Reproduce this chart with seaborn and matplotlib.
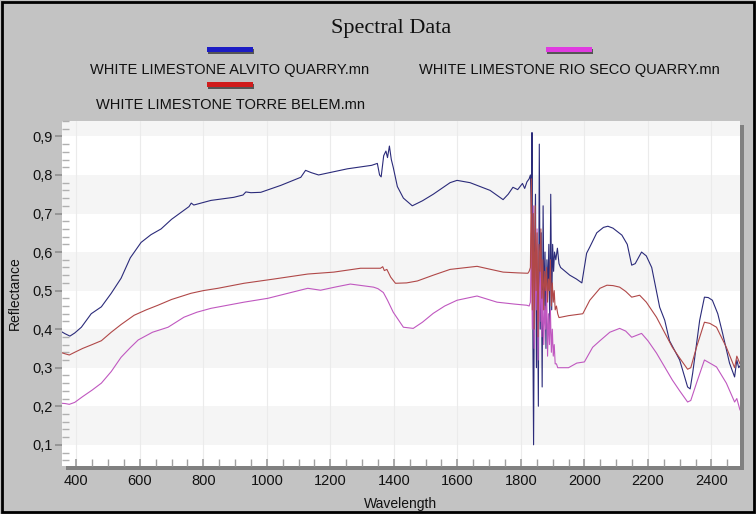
import matplotlib
matplotlib.use("Agg")
import matplotlib.pyplot as plt
import seaborn as sns
from matplotlib.patches import Rectangle
from matplotlib.ticker import MultipleLocator, FixedLocator, FixedFormatter

# ---------------- data ----------------
title = "Spectral Data"
series_names = ["WHITE LIMESTONE ALVITO QUARRY.mn",
                "WHITE LIMESTONE RIO SECO QUARRY.mn",
                "WHITE LIMESTONE TORRE BELEM.mn"]
x_label = "Wavelength"
y_label = "Reflectance"
x_ticks = [400, 600, 800, 1000, 1200, 1400, 1600, 1800, 2000, 2200, 2400]
y_ticks = [0.1, 0.2, 0.3, 0.4, 0.5, 0.6, 0.7, 0.8, 0.9]
y_tick_labels = ["0,1", "0,2", "0,3", "0,4", "0,5", "0,6", "0,7", "0,8", "0,9"]

alvito_wl = [350, 365, 380, 395, 416, 447, 479, 510, 541, 570, 604, 635, 667, 700, 730,
             755, 762, 770, 824, 896, 925, 934, 950, 981, 1044, 1107, 1122, 1140, 1163,
             1254, 1330, 1348, 1355, 1360, 1368, 1375, 1380, 1386, 1392, 1398, 1411, 1430,
             1458, 1490, 1524, 1577, 1599, 1640, 1703, 1744, 1760, 1775, 1790, 1805, 1812,
             1819, 1826,
             1830, 1833, 1835, 1838, 1840, 1843, 1846, 1849, 1852, 1855, 1858, 1861, 1864,
             1867, 1870, 1873, 1876, 1879, 1882, 1885, 1888, 1891, 1894, 1897, 1900, 1903,
             1906, 1910, 1915, 1920, 1925,
             1954, 1975, 1992, 2007, 2017, 2039, 2060, 2074, 2090, 2118, 2135, 2149, 2160,
             2180, 2195, 2212, 2237, 2253, 2268, 2300, 2325, 2333, 2341, 2363, 2378, 2390,
             2403, 2420, 2435, 2457, 2473, 2480, 2486, 2495]
alvito_refl = [0.395, 0.388, 0.382, 0.390, 0.405, 0.440, 0.458, 0.493, 0.532, 0.585, 0.625,
               0.645, 0.660, 0.685, 0.703, 0.718, 0.727, 0.722, 0.734, 0.742, 0.748, 0.756,
               0.754, 0.755, 0.773, 0.794, 0.812, 0.806, 0.800, 0.816, 0.825, 0.830, 0.800,
               0.795, 0.850, 0.862, 0.845, 0.875, 0.840, 0.820, 0.770, 0.740, 0.720, 0.733,
               0.750, 0.780, 0.786, 0.780, 0.760, 0.736, 0.750, 0.768, 0.762, 0.778, 0.765,
               0.782, 0.790,
               0.80, 0.70, 0.91, 0.35, 0.10, 0.60, 0.75, 0.30, 0.55, 0.20, 0.88, 0.40, 0.65,
               0.25, 0.72, 0.45, 0.60, 0.35, 0.58, 0.50, 0.62, 0.40, 0.75, 0.45, 0.62, 0.55,
               0.60, 0.58, 0.61, 0.57, 0.56,
               0.540, 0.530, 0.520, 0.597, 0.613, 0.650, 0.664, 0.667, 0.662, 0.644, 0.620,
               0.566, 0.570, 0.600, 0.590, 0.560, 0.457, 0.423, 0.370, 0.320, 0.250, 0.245,
               0.286, 0.423, 0.483, 0.482, 0.475, 0.440, 0.390, 0.312, 0.276, 0.320, 0.300,
               0.310]

torre_wl = [350, 365, 378, 395, 420, 450, 479, 510, 541, 582, 620, 657, 700, 761, 800, 846,
            928, 1022, 1129, 1211, 1295, 1358, 1365, 1370, 1378, 1390, 1405, 1440, 1474,
            1524, 1577, 1662, 1700, 1744, 1790, 1822, 1826,
            1830, 1833, 1836, 1839, 1842, 1845, 1848, 1851, 1854, 1857, 1860, 1863, 1866,
            1869, 1872, 1875, 1878, 1881, 1884, 1887, 1890, 1893, 1896, 1899, 1902, 1905,
            1908, 1912, 1916, 1920,
            1950, 1995, 2017, 2049, 2071, 2090, 2111, 2130, 2149, 2174, 2195, 2227, 2277,
            2300, 2325, 2335, 2353, 2378, 2395, 2416, 2447, 2473, 2480, 2490]
torre_refl = [0.340, 0.336, 0.333, 0.340, 0.350, 0.360, 0.370, 0.392, 0.412, 0.436, 0.450,
              0.462, 0.477, 0.493, 0.500, 0.506, 0.519, 0.530, 0.543, 0.548, 0.558, 0.558,
              0.562, 0.552, 0.555, 0.535, 0.519, 0.520, 0.525, 0.540, 0.555, 0.563, 0.556,
              0.548, 0.546, 0.545, 0.55,
              0.56, 0.79, 0.45, 0.70, 0.40, 0.72, 0.50, 0.65, 0.38, 0.62, 0.55, 0.66, 0.48,
              0.58, 0.45, 0.55, 0.50, 0.56, 0.47, 0.53, 0.50, 0.58, 0.46, 0.52, 0.47, 0.50,
              0.45, 0.46, 0.44, 0.43,
              0.435, 0.440, 0.475, 0.506, 0.514, 0.513, 0.509, 0.498, 0.483, 0.488, 0.470,
              0.431, 0.353, 0.325, 0.296, 0.300, 0.353, 0.418, 0.415, 0.405, 0.353, 0.300,
              0.330, 0.310]

rio_wl = [350, 365, 378, 395, 420, 450, 479, 510, 541, 570, 595, 640, 689, 739, 780, 824,
          928, 1003, 1066, 1129, 1169, 1220, 1263, 1336, 1350, 1367, 1380, 1398, 1430, 1461,
          1490, 1524, 1560, 1599, 1662, 1725, 1780, 1819, 1826,
          1830, 1833, 1836, 1839, 1842, 1845, 1848, 1851, 1854, 1857, 1860, 1863, 1866,
          1869, 1872, 1875, 1878, 1881, 1884, 1887, 1890, 1893, 1896, 1899, 1902, 1905,
          1908, 1912, 1916, 1920,
          1950, 1976, 2000, 2026, 2049, 2080, 2111, 2130, 2149, 2180, 2200, 2227, 2277, 2300,
          2325, 2335, 2353, 2378, 2395, 2416, 2447, 2473, 2480, 2490]
rio_refl = [0.208, 0.207, 0.205, 0.210, 0.225, 0.242, 0.260, 0.290, 0.327, 0.352, 0.372,
            0.392, 0.405, 0.431, 0.444, 0.454, 0.470, 0.480, 0.493, 0.506, 0.501, 0.510,
            0.517, 0.509, 0.505, 0.495, 0.475, 0.444, 0.405, 0.402, 0.418, 0.441, 0.460,
            0.475, 0.486, 0.470, 0.465, 0.462, 0.46,
            0.47, 0.65, 0.40, 0.72, 0.35, 0.60, 0.45, 0.66, 0.32, 0.55, 0.42, 0.58, 0.38,
            0.50, 0.36, 0.46, 0.40, 0.52, 0.33, 0.44, 0.36, 0.45, 0.34, 0.40, 0.33, 0.36,
            0.31, 0.31, 0.30, 0.30,
            0.300, 0.312, 0.315, 0.353, 0.370, 0.392, 0.402, 0.395, 0.379, 0.389, 0.370,
            0.338, 0.268, 0.240, 0.211, 0.215, 0.260, 0.320, 0.312, 0.302, 0.260, 0.211,
            0.220, 0.190]

line_colors = ["#2b2b7a", "#c058c0", "#b04848"]
legend_colors = ["#1c1cc4", "#e03ae0", "#d01c1c"]

# ---------------- figure ----------------
sns.set_theme(style="white")
plt.rcParams['font.family'] = ['Liberation Sans', 'DejaVu Sans']

W, H = 756, 514
fig = plt.figure(figsize=(W / 100, H / 100), dpi=100, facecolor="#c3c3c3")

L, R, T, B = 62, 740, 121, 466
ax = fig.add_axes([L / W, 1 - B / H, (R - L) / W, (B - T) / H])
ax.set_facecolor("white")

# shadow under axes
fig.patches.append(Rectangle(((L + 4) / W, 1 - (B + 4) / H), (R - L) / W, (B - T) / H,
                             transform=fig.transFigure, facecolor="#808080",
                             edgecolor="none", zorder=-1))

for lo in [0.1, 0.3, 0.5, 0.7, 0.9]:
    ax.axhspan(lo, lo + 0.1, color="#f5f5f5", lw=0, zorder=0)
ax.set_axisbelow(True)
ax.grid(axis="x", which="major", color="#ebebeb", lw=0.8)
ax.grid(axis="y", visible=False)

datasets = [(alvito_wl, alvito_refl), (rio_wl, rio_refl), (torre_wl, torre_refl)]
for (wl, rf), col in zip(datasets, line_colors):
    sns.lineplot(x=wl, y=rf, ax=ax, color=col, linewidth=0.8, sort=False,
                 estimator=None, errorbar=None, zorder=3)

ax.set_xlim(355, 2490)
ax.set_ylim(0.045, 0.94)

ax.xaxis.set_major_locator(FixedLocator(x_ticks))
ax.xaxis.set_minor_locator(MultipleLocator(50))
ax.yaxis.set_major_locator(FixedLocator(y_ticks))
ax.yaxis.set_major_formatter(FixedFormatter(y_tick_labels))
ax.yaxis.set_minor_locator(MultipleLocator(0.02))

for s in ax.spines.values():
    s.set_visible(False)

ax.tick_params(axis="x", which="both", direction="in", length=5, color="#a0a0a0",
               bottom=True, labelsize=10.5, pad=6, labelcolor="#111111")
ax.tick_params(axis="y", which="major", direction="out", length=5, color="#909090",
               left=True, labelsize=10.5, pad=2, labelcolor="#111111")
ax.tick_params(axis="y", which="minor", direction="in", length=5, color="#b0b0b0",
               left=True)

ax.set_xlabel(x_label, fontsize=10, labelpad=6, color="#111111")
ax.set_ylabel(y_label, fontsize=10, labelpad=7, color="#111111")

# title
fig.text(391 / W, 1 - 28 / H, title, ha="center", va="center",
         family=["Liberation Serif"], fontsize=16, color="#111111")

# legend (bars above labels)
legend_pos = [(230, 49, 70), (569, 49, 70), (230, 84, 105)]
for name, col, (cx, by, ty) in zip(series_names, legend_colors, legend_pos):
    bw, bh = 46, 5
    fig.patches.append(Rectangle(((cx - bw / 2 + 1) / W, 1 - (by + bh / 2 + 2) / H),
                                 bw / W, bh / H, transform=fig.transFigure,
                                 facecolor="#555555", edgecolor="none"))
    fig.patches.append(Rectangle(((cx - bw / 2) / W, 1 - (by + bh / 2) / H),
                                 bw / W, bh / H, transform=fig.transFigure,
                                 facecolor=col, edgecolor="none"))
    fig.text(cx / W, 1 - ty / H, name, ha="center", va="center", fontsize=10.5,
             color="#111111")

# figure border
fig.patches.append(Rectangle((0.002, 0.003), 0.996, 0.994, transform=fig.transFigure,
                             fill=False, edgecolor="black", lw=2))

fig.savefig("out.png", dpi=100, facecolor=fig.get_facecolor())
